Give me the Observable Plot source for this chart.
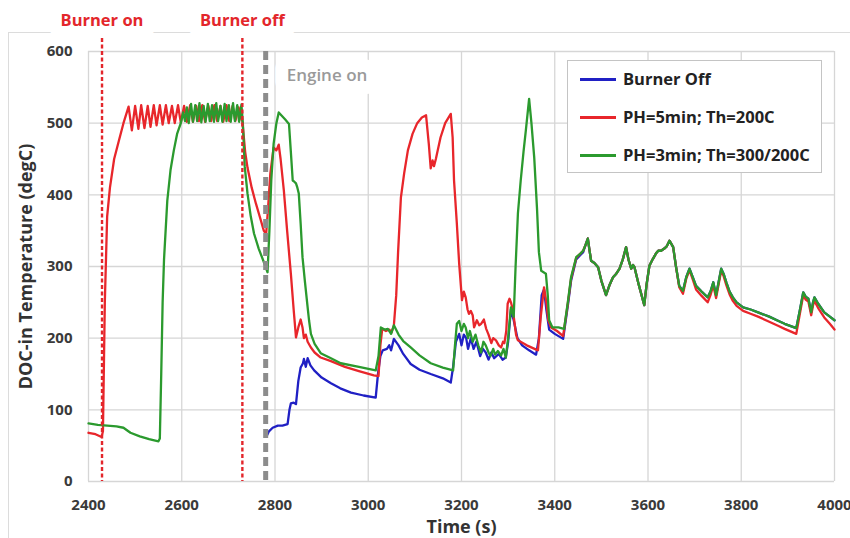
<!DOCTYPE html>
<html>
<head>
<meta charset="utf-8">
<script src="https://cdn.jsdelivr.net/npm/d3@7"></script>
<script src="https://cdn.jsdelivr.net/npm/@observablehq/plot@0.6"></script>
<style>
  body { margin: 0; background: #fff; }
  #wrap { position: relative; width: 850px; height: 538px; overflow: hidden; background: #fff; font-family: "Open Sans", sans-serif; }
  #frame { position: absolute; left: 8px; top: 32px; width: 900px; height: 600px; border: 1.5px solid #dcdcdc; }
  #chart { position: absolute; left: 0; top: 0; }
  #legend { position: absolute; left: 567px; top: 60px; width: 255px; height: 113px; border: 1.5px solid #c4c4c4; background: #fff; box-sizing: border-box; }
  .row { position: absolute; left: 0; height: 24px; width: 100%; }
  .swatch { position: absolute; left: 12px; top: 11px; width: 36px; height: 0; border-top: 3px solid; }
  .lab { position: absolute; left: 55px; top: 0; line-height: 24px; font-size: 16.5px; font-weight: 700; color: #222; white-space: nowrap; }
</style>
</head>
<body>
<div id="wrap">
  <div id="frame"></div>
  <div id="chart"></div>
  <div id="legend"></div>
</div>
<script>
// ---- Data ----
const xTicks = [2400, 2600, 2800, 3000, 3200, 3400, 3600, 3800, 4000];
const yTicks = [0, 100, 200, 300, 400, 500, 600];

const seriesNames = ["Burner Off", "PH=5min; Th=200C", "PH=3min; Th=300/200C"];
const seriesColors = ["#2020c4", "#e8262b", "#2b9a2e"];

const burnerEvents = [
  {time: 2429, label: "Burner on"},
  {time: 2730, label: "Burner off"}
];
const engineEvents = [{time: 2780, label: "Engine on"}];

// Burner Off (blue)
const burnerOff = [
  [2782,63],[2787,70],[2795,75],[2806,78],[2816,78],[2827,80],[2831,100],[2834,109],[2840,110],[2845,108],
  [2850,140],[2855,159],[2860,165],[2862,171],[2866,160],[2870,172],[2876,162],[2884,155],[2900,145],
  [2920,137],[2940,130],[2963,124],[2990,120],[3016,117],[3021,151],[3026,175],[3031,183],[3040,185],
  [3045,190],[3049,183],[3055,199],[3065,190],[3075,178],[3091,164],[3110,156],[3134,150],[3160,144],
  [3177,138],[3182,160],[3188,195],[3195,206],[3200,190],[3205,205],[3210,200],[3214,185],[3220,200],
  [3226,185],[3232,195],[3240,175],[3246,185],[3252,180],[3258,170],[3264,180],[3270,172],[3280,178],
  [3288,170],[3295,173],[3300,195],[3306,240],[3312,225],[3320,200],[3330,190],[3345,183],[3360,177],
  [3366,200],[3372,260],[3377,268],[3382,240],[3388,212],[3400,206],[3418,199],
  [3428,245],[3435,280],[3446,310],[3455,316],[3461,320],[3466,330],[3471,339],[3474,325],[3478,308],
  [3485,305],[3493,299],[3500,280],[3510,260],[3518,275],[3525,285],[3532,290],[3539,297],[3546,310],
  [3553,327],[3558,310],[3564,297],[3568,302],[3571,299],[3580,275],[3592,246],[3597,275],[3603,301],
  [3610,310],[3617,318],[3622,322],[3628,322],[3635,325],[3640,328],[3646,336],[3654,327],[3660,300],
  [3667,273],[3675,266],[3682,285],[3689,297],[3696,285],[3703,273],[3715,265],[3728,257],[3734,265],
  [3740,278],[3746,260],[3752,280],[3757,297],[3762,290],[3768,278],[3775,265],[3782,257],[3790,250],
  [3804,243],[3820,240],[3836,236],[3860,230],[3880,224],[3893,220],[3918,214],[3926,240],[3933,264],
  [3938,258],[3944,255],[3950,236],[3954,250],[3957,257],[3965,248],[3978,236],[3990,230],[4000,225]
];

// PH=5min; Th=200C (red)
const ph5 = [
  [2400,68],[2415,66],[2428,62],[2431,70],[2435,250],[2440,370],[2446,410],[2455,450],[2465,475],[2475,500],
  [2486,523],[2493,490],[2500,524],[2507,492],[2513,525],[2520,493],[2527,524],[2533,495],[2540,525],
  [2546,497],[2553,525],[2559,498],[2566,525],[2572,500],[2579,524],[2585,500],[2592,525],[2598,501],
  [2605,524],[2611,502],[2618,525],[2624,502],[2631,524],[2637,503],[2644,525],[2650,502],[2657,524],
  [2663,503],[2670,525],[2676,503],[2683,524],[2689,502],[2696,525],[2702,503],[2709,524],[2715,503],
  [2722,522],[2728,505],[2730,503],[2736,460],[2741,438],[2750,410],[2759,388],[2768,368],[2776,350],
  [2781,345],[2785,380],[2790,430],[2797,466],[2803,462],[2808,470],[2812,450],[2819,406],[2826,350],
  [2834,290],[2840,240],[2845,201],[2850,215],[2855,226],[2859,215],[2862,200],[2866,205],[2870,195],
  [2877,187],[2885,180],[2898,173],[2920,168],[2950,160],[2980,154],[3012,148],[3022,147],[3026,190],
  [3030,213],[3038,210],[3045,212],[3050,208],[3055,218],[3060,260],[3064,320],[3070,396],[3077,430],
  [3085,462],[3095,485],[3105,500],[3115,508],[3124,511],[3130,470],[3134,437],[3138,448],[3141,440],
  [3145,450],[3155,480],[3165,500],[3177,513],[3181,480],[3184,420],[3190,360],[3195,304],[3201,253],
  [3205,265],[3209,257],[3213,240],[3216,234],[3220,238],[3224,232],[3227,215],[3233,225],[3238,218],
  [3242,220],[3248,226],[3253,213],[3258,205],[3264,193],[3268,200],[3274,197],[3280,190],[3285,187],
  [3289,195],[3292,193],[3296,210],[3299,248],[3303,255],[3306,250],[3310,240],[3313,225],[3317,205],
  [3321,197],[3340,190],[3364,183],[3370,230],[3377,271],[3382,250],[3386,225],[3392,215],[3405,210],
  [3418,203],[3428,248],[3435,283],[3446,312],[3455,318],[3461,322],[3466,330],[3471,339],[3474,325],
  [3478,308],[3485,305],[3493,299],[3500,280],[3510,260],[3518,275],[3525,285],[3532,290],[3539,297],
  [3546,310],[3553,327],[3558,310],[3564,297],[3568,302],[3571,299],[3580,275],[3592,246],[3597,275],
  [3603,301],[3610,310],[3617,318],[3622,322],[3628,322],[3635,325],[3640,328],[3646,336],[3654,327],
  [3660,300],[3667,271],[3675,262],[3682,283],[3689,295],[3696,282],[3703,268],[3715,259],[3728,250],
  [3734,260],[3740,274],[3746,256],[3752,277],[3757,294],[3762,287],[3768,274],[3775,261],[3782,252],
  [3790,245],[3804,238],[3820,234],[3836,230],[3860,223],[3880,217],[3893,213],[3918,206],[3926,235],
  [3933,260],[3938,254],[3944,251],[3950,232],[3954,246],[3957,252],[3965,242],[3978,229],[3990,220],
  [4000,212]
];

// PH=3min; Th=300/200C (green)
const ph3 = [
  [2400,81],[2420,79],[2440,78],[2460,77],[2475,75],[2490,68],[2510,63],[2530,59],[2550,56],[2553,60],
  [2556,150],[2559,250],[2562,310],[2569,392],[2576,435],[2583,462],[2590,485],[2598,500],[2603,515],
  [2607,503],[2611,522],[2615,500],[2620,527],[2624,502],[2629,525],[2633,503],[2638,528],[2642,501],
  [2647,524],[2651,502],[2656,527],[2660,503],[2665,525],[2669,502],[2674,528],[2678,503],[2683,524],
  [2687,502],[2692,527],[2696,503],[2701,525],[2705,502],[2710,528],[2714,503],[2719,525],[2723,502],
  [2728,526],[2731,500],[2735,440],[2741,402],[2748,370],[2755,346],[2765,325],[2775,308],[2784,292],
  [2788,350],[2792,420],[2797,471],[2803,500],[2808,515],[2815,510],[2822,505],[2830,499],[2834,460],
  [2838,420],[2842,418],[2845,416],[2848,410],[2851,402],[2855,360],[2859,313],[2864,280],[2870,243],
  [2873,225],[2877,206],[2885,192],[2898,179],[2920,172],[2941,165],[2980,160],[3016,155],[3022,175],
  [3027,215],[3035,212],[3042,213],[3049,206],[3055,218],[3065,205],[3075,196],[3091,187],[3110,176],
  [3134,165],[3160,159],[3182,155],[3186,190],[3190,220],[3195,224],[3200,210],[3205,220],[3209,215],
  [3214,200],[3218,210],[3224,195],[3230,205],[3236,190],[3242,180],[3247,195],[3252,190],[3258,180],
  [3262,175],[3268,185],[3272,177],[3278,182],[3285,176],[3290,185],[3295,173],[3300,200],[3306,243],
  [3312,230],[3316,300],[3321,374],[3327,420],[3333,460],[3338,490],[3345,534],[3350,500],[3356,452],
  [3362,380],[3366,320],[3371,294],[3381,290],[3385,260],[3388,225],[3395,215],[3408,215],[3420,213],
  [3428,250],[3435,285],[3446,313],[3455,318],[3461,322],[3466,330],[3471,339],[3474,325],[3478,308],
  [3485,305],[3493,299],[3500,280],[3510,260],[3518,275],[3525,285],[3532,290],[3539,297],[3546,310],
  [3553,327],[3558,310],[3564,297],[3568,302],[3571,299],[3580,275],[3592,246],[3597,275],[3603,301],
  [3610,310],[3617,318],[3622,322],[3628,322],[3635,325],[3640,328],[3646,336],[3654,327],[3660,300],
  [3667,273],[3675,266],[3682,285],[3689,297],[3696,285],[3703,273],[3715,265],[3728,257],[3734,265],
  [3740,278],[3746,260],[3752,280],[3757,297],[3762,290],[3768,278],[3775,265],[3782,257],[3790,250],
  [3804,243],[3820,240],[3836,236],[3860,230],[3880,224],[3893,220],[3918,214],[3926,240],[3933,264],
  [3938,258],[3944,255],[3950,236],[3954,250],[3957,257],[3965,248],[3978,236],[3990,230],[4000,225]
];

const allSeries = [burnerOff, ph5, ph3];

// ---- Chart ----
const lineMarks = allSeries.map((s, i) =>
  Plot.line(s, {x: d => d[0], y: d => d[1], stroke: seriesColors[i], strokeWidth: 2.3, strokeLinejoin: "round"})
);

const chart = Plot.plot({
  width: 850,
  height: 538,
  marginLeft: 88,
  marginRight: 16,
  marginTop: 51,
  marginBottom: 57,
  x: {domain: [2400, 4000]},
  y: {domain: [0, 600]},
  style: {fontFamily: "'Open Sans', sans-serif", background: "transparent", overflow: "visible"},
  marks: [
    Plot.gridX(xTicks, {stroke: "#d6d6d6", strokeOpacity: 1, strokeWidth: 1.3}),
    Plot.gridY(yTicks, {stroke: "#d6d6d6", strokeOpacity: 1, strokeWidth: 1.3}),
    Plot.axisX(xTicks, {tickSize: 0, tickPadding: 18, tickFormat: d3.format("d"), fontSize: 15, fontWeight: "bold", fill: "#3a3a3a", label: null}),
    Plot.axisY(yTicks, {tickSize: 0, tickPadding: 16, tickFormat: d3.format("d"), fontSize: 15, fontWeight: "bold", fill: "#3a3a3a", label: null}),
    Plot.text(["Time (s)"], {frameAnchor: "bottom", dy: 46, lineAnchor: "middle", fontSize: 18, fontWeight: "bold", fill: "#333"}),
    Plot.text(["DOC-in Temperature (degC)"], {frameAnchor: "left", dx: -62, rotate: -90, textAnchor: "middle", fontSize: 18, fontWeight: "bold", fill: "#333"}),
    Plot.text(burnerEvents, {x: "time", text: "label", frameAnchor: "top", dy: -31, lineAnchor: "middle", fill: "#e3262b", stroke: "white", strokeWidth: 26, paintOrder: "stroke", fontSize: 16.5, fontWeight: "bold"}),
    Plot.text(engineEvents, {x: "time", text: "label", frameAnchor: "top", dx: 21, dy: 24, lineAnchor: "middle", textAnchor: "start", fill: "#9a9a9a", stroke: "white", strokeWidth: 26, paintOrder: "stroke", fontSize: 17, fontWeight: 600}),
    ...lineMarks,
    Plot.ruleX(burnerEvents, {x: "time", stroke: "#e3262b", strokeWidth: 2.4, strokeDasharray: "4,2.5", insetTop: -13}),
    Plot.ruleX(engineEvents, {x: "time", stroke: "#8c8c8c", strokeWidth: 5, strokeDasharray: "9,5"})
  ]
});
document.getElementById("chart").appendChild(chart);

// ---- Legend (inside plot area, as in reference) ----
const legend = document.getElementById("legend");
seriesNames.forEach((name, i) => {
  const row = document.createElement("div");
  row.className = "row";
  row.style.top = (6 + i * 38) + "px";
  const sw = document.createElement("div");
  sw.className = "swatch";
  sw.style.borderTopColor = seriesColors[i];
  const lab = document.createElement("div");
  lab.className = "lab";
  lab.textContent = name;
  row.appendChild(sw);
  row.appendChild(lab);
  legend.appendChild(row);
});
</script>
</body>
</html>
